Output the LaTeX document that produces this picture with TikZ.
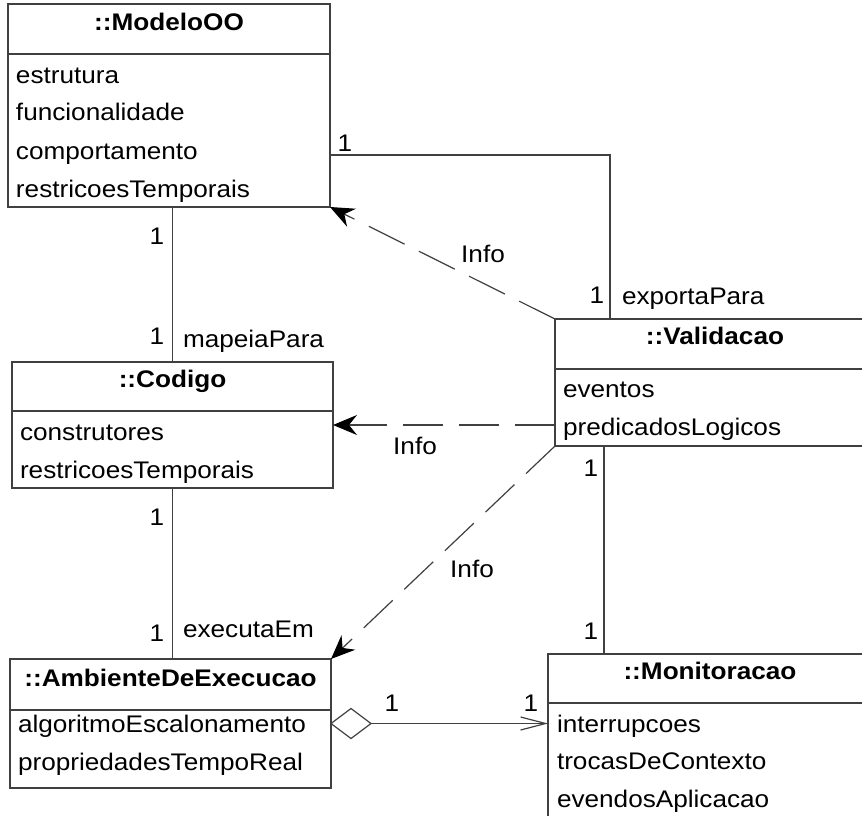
\documentclass[tikz,border=0pt]{standalone}
\usepackage{fontspec}
\setmainfont{Liberation Sans}[FakeStretch=1.09]
\usetikzlibrary{arrows.meta,calc}
\begin{document}
\begin{tikzpicture}[x=1pt,y=-1pt,
  every node/.style={font=\fontsize{24}{29}\selectfont, inner sep=0pt, outer sep=0pt},
  classbox/.style={draw=black!75, line width=1.2pt, anchor=north west},
  title/.style={anchor=base, font=\fontsize{24}{29}\selectfont\bfseries},
  attr/.style={anchor=base west},
  mult/.style={anchor=base},
  link/.style={draw=black!75, line width=1.2pt},
  info/.style={link, dash pattern=on 40pt off 16pt,
    -{Stealth[length=24pt,width=20pt,inset=8pt,black]}},
]
\path[use as bounding box, clip] (0,0) rectangle (862,816);
\fill[white] (0,0) rectangle (862,816);

% ---- class boxes ----
\node[classbox, minimum width=322pt, minimum height=203pt] (modelo) at (8,4) {};
\node[classbox, minimum width=321pt, minimum height=126pt] (codigo) at (12,362) {};
\node[classbox, minimum width=320pt, minimum height=127pt] (valid) at (555,319) {};
\node[classbox, minimum width=321pt, minimum height=129pt] (amb) at (10,659) {};
\node[classbox, minimum width=324pt, minimum height=200pt] (moni) at (548,654) {};

% compartment dividers
\draw[link] ($(modelo.north west)+(0,50)$) -- ($(modelo.north east)+(0,50)$);
\draw[link] ($(codigo.north west)+(0,49)$) -- ($(codigo.north east)+(0,49)$);
\draw[link] ($(valid.north west)+(0,50)$) -- ($(valid.north east)+(0,50)$);
\draw[link] ($(amb.north west)+(0,51)$) -- ($(amb.north east)+(0,51)$);
\draw[link] ($(moni.north west)+(0,49)$) -- ($(moni.north east)+(0,49)$);

% ModeloOO
\node[title] (modelo-t) at (169,31) {::ModeloOO};
\node[attr] (modelo-a1) at (16,83) {estrutura};
\node[attr] (modelo-a2) at (16,121) {funcionalidade};
\node[attr] (modelo-a3) at (16,159) {comportamento};
\node[attr] (modelo-a4) at (16,197) {restricoesTemporais};

% Codigo
\node[title] (codigo-t) at (172.5,387) {::Codigo};
\node[attr] (codigo-a1) at (20,440) {construtores};
\node[attr] (codigo-a2) at (20,478) {restricoesTemporais};

% Validacao
\node[title] (valid-t) at (715,344) {::Validacao};
\node[attr] (valid-a1) at (563,397) {eventos};
\node[attr] (valid-a2) at (563,435) {predicadosLogicos};

% AmbienteDeExecucao
\node[title] (amb-t) at (170.5,686) {::AmbienteDeExecucao};
\node[attr] (amb-a1) at (18,732) {algoritmoEscalonamento};
\node[attr] (amb-a2) at (18,770) {propriedadesTempoReal};

% Monitoracao
\node[title] (moni-t) at (710,679) {::Monitoracao};
\node[attr] (moni-a1) at (557,732) {interrupcoes};
\node[attr] (moni-a2) at (557,769) {trocasDeContexto};
\node[attr] (moni-a3) at (557,807) {evendosAplicacao};

% ---- associations ----
\draw[link] ($(modelo.north east)+(0,151)$) -| ($(valid.north west)+(55,0)$);
\draw[link] (codigo.north |- modelo.south) -- (codigo.north);
\draw[link] (codigo.south) -- (codigo.south |- amb.north);
\coordinate (vm) at ($(valid.south west)+(49,0)$);
\draw[link] (vm) -- (vm |- moni.north);

% ---- Info dependencies ----
\draw[info] (valid.north west) -- (modelo.south east);
\draw[info] (codigo.east -| valid.west) -- (codigo.east);
\draw[info] (valid.south west) -- (amb.north east);

% ---- aggregation ----
\draw[link, fill=white] (amb.east) -- ++(20,-15) -- ++(20,15) -- ++(-20,15) -- cycle;
\draw[link, -{Straight Barb[length=25pt,width=13pt]}]
  ($(amb.east)+(40,0)$) -- (amb.east -| moni.west);

% ---- labels ----
\node[mult] (m1) at (345,151) {1};
\node[mult] (m2) at (597,303) {1};
\node[attr] (l-exp) at (622,304) {exportaPara};
\node[mult] (m3) at (157,244) {1};
\node[mult] (m4) at (157,344) {1};
\node[attr] (l-map) at (183,347) {mapeiaPara};
\node[mult] (m5) at (157,525) {1};
\node[mult] (m6) at (157,641) {1};
\node[attr] (l-exe) at (183,637) {executaEm};
\node[mult] (m7) at (591,476) {1};
\node[mult] (m8) at (591,639) {1};
\node[mult] (m9) at (392,711) {1};
\node[mult] (m10) at (531,711) {1};
\node[mult] (i1) at (483,262) {Info};
\node[mult] (i2) at (415,454) {Info};
\node[mult] (i3) at (472,577) {Info};
\end{tikzpicture}
\end{document}
